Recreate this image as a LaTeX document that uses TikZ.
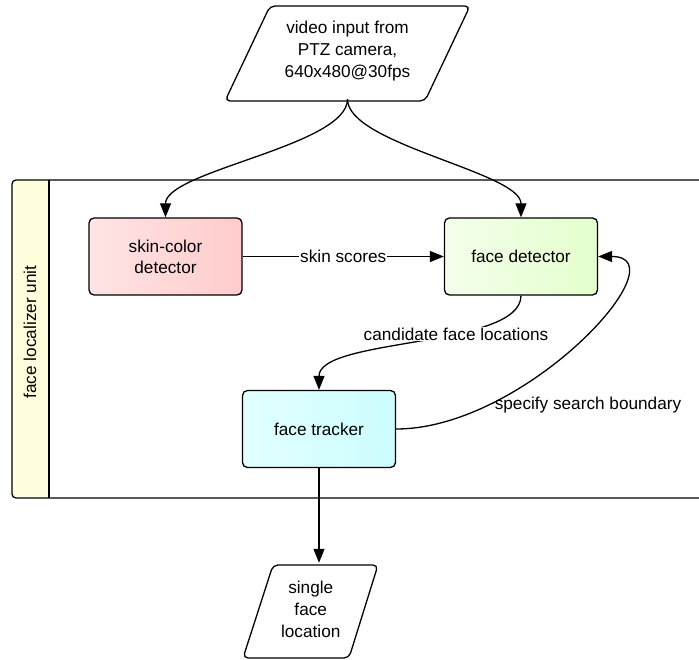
\documentclass[tikz,border=0pt]{standalone}
\usepackage{fontspec}
\setmainfont{Liberation Sans}
\usetikzlibrary{arrows.meta,calc}
\definecolor{skinL}{HTML}{FFE4E4}
\definecolor{skinR}{HTML}{FFCCCC}
\definecolor{fdL}{HTML}{F4FFEC}
\definecolor{fdR}{HTML}{E4FFCC}
\definecolor{trL}{HTML}{E2FFFF}
\definecolor{trR}{HTML}{CCFDFF}
\definecolor{band}{HTML}{FFFFDD}
\tikzset{
  box/.style={draw=black, line width=1.3pt, rounded corners=5pt, minimum width=153pt, minimum height=77pt, align=center, inner sep=0pt},
  io/.style={minimum width=150pt, minimum height=95pt, align=center, inner sep=0pt},
  conn/.style={line width=1.3pt, -{Triangle[length=14pt,width=11pt]}},
  lbl/.style={fill=white, inner sep=1pt},
  txt/.style={font=\fontsize{17.2}{22}\selectfont}
}
\begin{document}
\begin{tikzpicture}[x=1pt,y=-1pt, every node/.style={txt}]
\useasboundingbox (0,0) rectangle (699,660);
% container
\fill[band, rounded corners=4pt] (12.7,180.7) rectangle (49,497.3);
\draw[line width=1.3pt, rounded corners=4pt] (712,180) -- (12,180) -- (12,498) -- (712,498);
\draw[line width=1.3pt] (49,180) -- (49,498);
\node[rotate=90] (unit) at (30,332) {face localizer unit};
% input parallelogram
\draw[line width=1.3pt, rounded corners=5pt, fill=white] (270,6) -- (470,6) -- (425,101) -- (225,101) -- cycle;
\node[io] (in) at (347.5,51.5) {video input from\\PTZ camera,\\640x480@30fps};
% boxes
\node[box, left color=skinL, right color=skinR] (skin) at (165.5,256.5) {skin-color\\[-1pt]detector};
\node[box, left color=fdL, right color=fdR] (fd) at (521,256.5) {face detector};
\node[box, left color=trL, right color=trR] (tr) at (319,429) {face tracker};
% output parallelogram
\draw[line width=1.3pt, rounded corners=5pt, fill=white] (273,565) -- (378,565) -- (349,658) -- (243,658) -- cycle;
\node[minimum width=100pt, minimum height=93pt, align=center, inner sep=0pt] (out) at (310.75,609.5) {single\\face\\location};
% connectors
\draw[conn] (in.south) to[out=-90,in=90,looseness=0.55] (skin.north);
\draw[conn] (in.south) to[out=-90,in=90,looseness=0.55] (fd.north);
\draw[conn] (skin.east) -- node[lbl] (ss) {skin scores} (fd.east -| fd.west);
\draw[conn] (fd.south) to[out=-90,in=90,looseness=0.6] (tr.north);
\node[lbl] (cfl) at (456,334) {candidate face locations};
\draw[conn] (tr.east) .. controls +(130,0) and +(85,0) .. (fd.east);
\node (ssb) at (588,405) {specify search boundary};
\draw[conn] (tr.south) -- (tr.south |- out.north);
\end{tikzpicture}
\end{document}
